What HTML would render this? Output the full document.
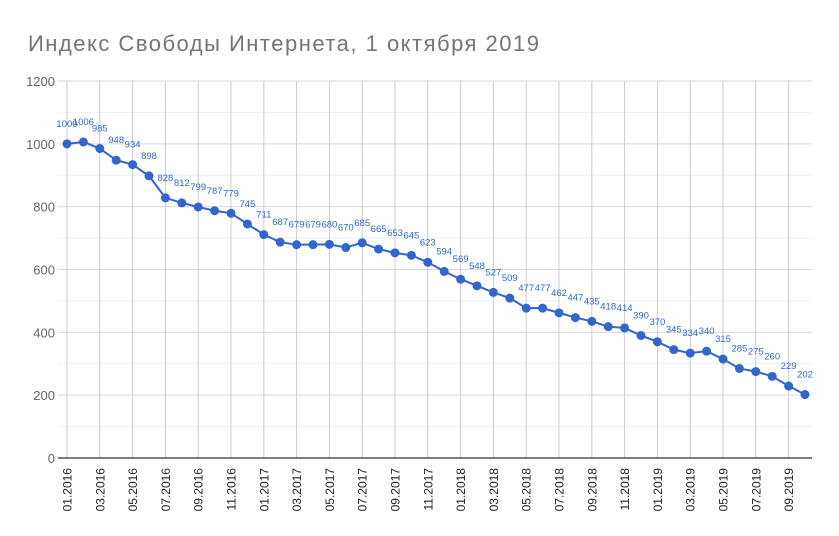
<!DOCTYPE html>
<html><head><meta charset="utf-8"><style>
body{margin:0;background:#fff;}
svg{display:block;font-family:"Liberation Sans","DejaVu Sans",sans-serif;}
</style></head><body>
<svg id="chart" width="839" height="536" viewBox="0 0 839 536">
<rect width="839" height="536" fill="#fff"/>
<text x="28" y="51" font-size="22" fill="#757575" textLength="511" lengthAdjust="spacing">Индекс Свободы Интернета,  1 октября  2019</text>
<g id="grid"></g><g id="axes"></g><g id="series"></g>
</svg>
<script>
const categories=["01.2016","02.2016","03.2016","04.2016","05.2016","06.2016","07.2016","08.2016","09.2016","10.2016","11.2016","12.2016","01.2017","02.2017","03.2017","04.2017","05.2017","06.2017","07.2017","08.2017","09.2017","10.2017","11.2017","12.2017","01.2018","02.2018","03.2018","04.2018","05.2018","06.2018","07.2018","08.2018","09.2018","10.2018","11.2018","12.2018","01.2019","02.2019","03.2019","04.2019","05.2019","06.2019","07.2019","08.2019","09.2019","10.2019"];
const values=[1000,1006,985,948,934,898,828,812,799,787,779,745,711,687,679,679,680,670,685,665,653,645,623,594,569,548,527,509,477,477,462,447,435,418,414,390,370,345,334,340,315,285,275,260,229,202];
const yTicks=[0,200,400,600,800,1000,1200];
const NS="http://www.w3.org/2000/svg";
const x0=67,x1=805,yBase=458,yTop=81,yMax=1200,left=58,right=812;
const xs=i=>x0+(x1-x0)*i/(categories.length-1);
const ys=v=>yBase-(yBase-yTop)*v/yMax;
function mk(tag,attrs,parent){const e=document.createElementNS(NS,tag);for(const k in attrs)e.setAttribute(k,attrs[k]);parent.appendChild(e);return e;}
const grid=document.getElementById('grid'),axes=document.getElementById('axes'),series=document.getElementById('series');
for(let v=100;v<yMax;v+=200){const l=mk('line',{x1:left,x2:right,y1:ys(v),y2:ys(v),stroke:'#f0f0f0','stroke-width':1},grid);

}
yTicks.forEach(v=>{if(v>0){const l=mk('line',{x1:left,x2:right,y1:ys(v),y2:ys(v),stroke:'#d9d9d9','stroke-width':1},grid);

}
const t=mk('text',{x:left-3,y:ys(v)+5,'text-anchor':'end','font-size':13,fill:'#666'},axes);t.textContent=v;

});
categories.forEach((c,i)=>{if(i%2)return;const x=xs(i);
const l=mk('line',{x1:x,x2:x,y1:yTop,y2:yBase,stroke:'#cccccc','stroke-width':1},grid);


const t=mk('text',{transform:`translate(${x+4.5},468) rotate(-90)`,'text-anchor':'end','font-size':12,fill:'#222'},axes);t.textContent=c;

});
const ax=mk('line',{x1:left,x2:right,y1:yBase,y2:yBase,stroke:'#333','stroke-width':1.2},axes);


const pl=mk('polyline',{points:values.map((v,i)=>xs(i)+','+ys(v)).join(' '),fill:'none',stroke:'#3366cc','stroke-width':2},series);


values.forEach((v,i)=>{const c=mk('circle',{cx:xs(i),cy:ys(v),r:4.5,fill:'#3366cc'},series);


const t=mk('text',{x:xs(i),y:ys(v)-17,'text-anchor':'middle','font-size':9.5,fill:'#3366cc'},series);t.textContent=v;

});
</script>
</body></html>
